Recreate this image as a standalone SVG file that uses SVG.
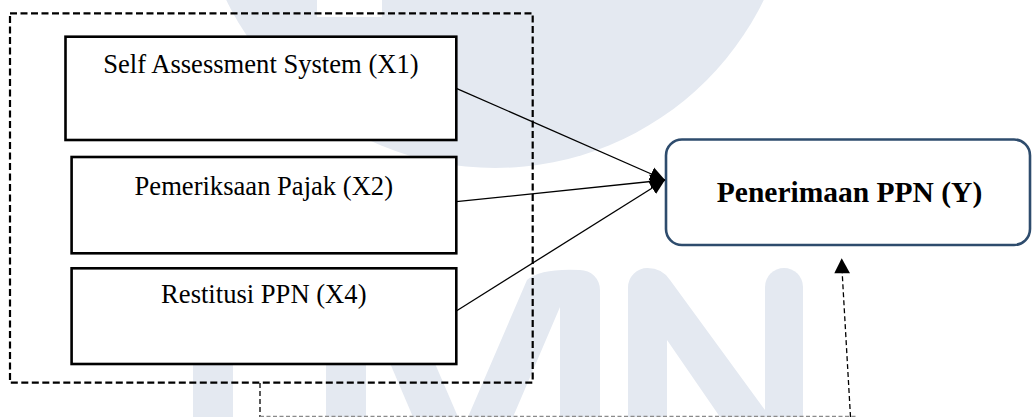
<svg xmlns="http://www.w3.org/2000/svg" width="1032" height="417" viewBox="0 0 1032 417">
  <style>
    .wm { fill: #e4e9f1; }
    .box { fill: #ffffff; stroke: #000000; stroke-width: 2.6; }
    .lbl { font-family: "Liberation Serif", "Times New Roman", serif; font-size: 26.6px; fill: #000000; text-anchor: middle; }
    .lblb { font-family: "Liberation Serif", "Times New Roman", serif; font-size: 29.5px; font-weight: bold; fill: #000000; text-anchor: middle; }
    .conn { stroke: #000000; stroke-width: 1.3; fill: none; }
    .dash { stroke: #000000; stroke-width: 1.3; fill: none; stroke-dasharray: 5 3; }
  </style>
  <defs>
    <marker id="ah" viewBox="0 -8 16 16" markerWidth="16" markerHeight="16" refX="15" refY="0" orient="auto" markerUnits="userSpaceOnUse">
      <path d="M0,-7 L15,0 L0,7 Z" fill="#000000"/>
    </marker>
  </defs>
  <rect x="0" y="0" width="1032" height="417" fill="#ffffff"/>
  <g id="watermark">
    <circle class="wm" cx="495" cy="-131" r="299"/>
    <rect x="317" y="0" width="65" height="17" fill="#ffffff"/>
    <path class="wm" d="M193,417 V350 A20,20 0 0 1 233,350 V417 Z"/>
    <path class="wm" d="M326,417 V290 A20,20 0 0 1 346,270 Q385,268 399,280 L458,417 L413,417 L366,307 V417 Z"/>
    <path class="wm" d="M600,417 V290 A20,20 0 0 0 580,270 Q541,268 527,280 L468,417 L513,417 L560,307 V417 Z"/>
    <path class="wm" d="M628,417 V287.5 A19.5,19.5 0 0 1 647.5,268 Q662,268 670,280 L765,410 V417 L720,417 L667,340 V417 Z"/>
    <path class="wm" d="M765,417 V287 A19,19 0 0 1 803,287 V417 Z"/>
  </g>
  <rect id="group-frame" x="10" y="13.3" width="522.7" height="369.4" fill="none" stroke="#000000" stroke-width="2.2" stroke-dasharray="7 3.5"/>
  <g id="x1">
    <rect class="box" x="65.5" y="36.7" width="390.8" height="103.3"/>
    <text class="lbl" x="260.9" y="73.3">Self Assessment System (X1)</text>
  </g>
  <g id="x2">
    <rect class="box" x="71.6" y="157" width="384.7" height="96.3"/>
    <text class="lbl" x="263.8" y="195">Pemeriksaan Pajak (X2)</text>
  </g>
  <g id="x4">
    <rect class="box" x="71.6" y="268.3" width="384.7" height="95.7"/>
    <text class="lbl" x="263.8" y="303.3">Restitusi PPN (X4)</text>
  </g>
  <g id="y">
    <rect x="666" y="139.5" width="364" height="105.5" rx="16" ry="16" fill="#ffffff" stroke="#2e4c6d" stroke-width="2.6"/>
    <text class="lblb" x="849.5" y="201.7">Penerimaan PPN (Y)</text>
  </g>
  <g id="connectors">
    <line class="conn" x1="456.3" y1="88.3" x2="665" y2="180" marker-end="url(#ah)"/>
    <line class="conn" x1="456.3" y1="201.7" x2="665" y2="180" marker-end="url(#ah)"/>
    <line class="conn" x1="456.3" y1="311" x2="665" y2="180" marker-end="url(#ah)"/>
    <line class="dash" x1="260" y1="383" x2="260" y2="417"/>
    <line x1="260" y1="416.3" x2="858" y2="416.3" stroke="#8a8a8a" stroke-width="1.2" stroke-dasharray="4 2.5"/>
    <line class="dash" x1="850.5" y1="417" x2="842.2" y2="273" stroke-dasharray="4 3"/>
    <path d="M841.7,258.3 L850,273.3 L834.3,273.3 Z" fill="#000000"/>
  </g>
</svg>
